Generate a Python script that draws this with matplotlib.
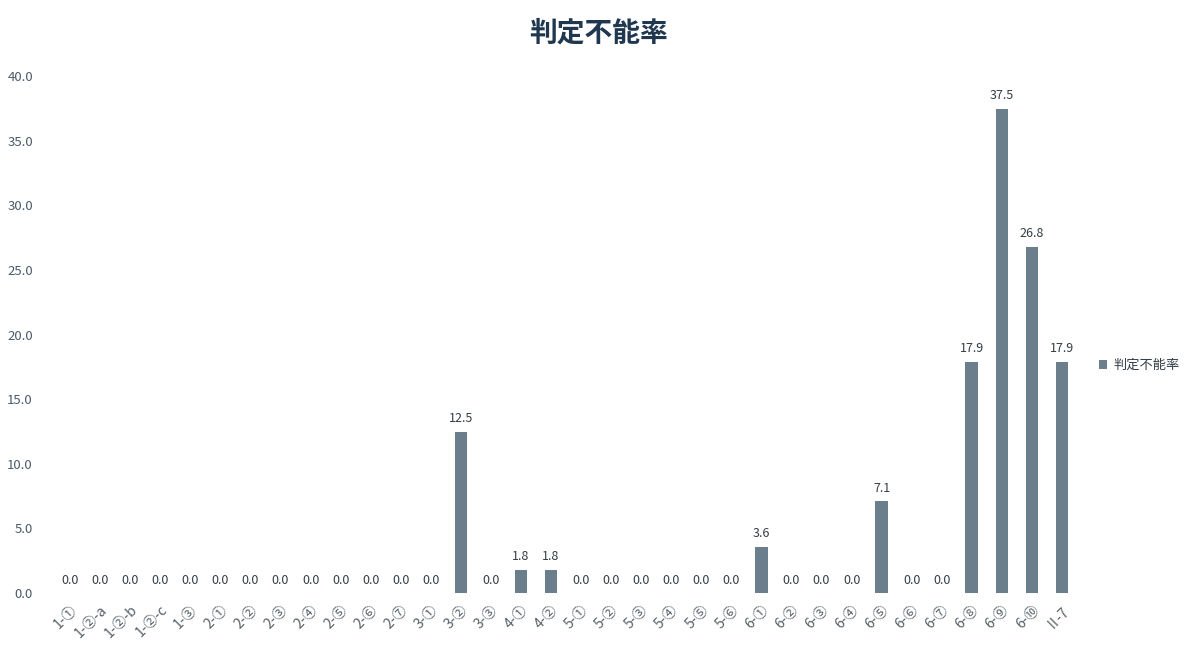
import matplotlib
matplotlib.use("Agg")
import matplotlib.pyplot as plt

plt.rcParams['font.family'] = ['Noto Sans CJK JP', 'DejaVu Sans']

# --- data ---
categories = [
    "1-①", "1-②-a", "1-②-b", "1-②-c", "1-③",
    "2-①", "2-②", "2-③", "2-④", "2-⑤", "2-⑥", "2-⑦",
    "3-①", "3-②", "3-③",
    "4-①", "4-②",
    "5-①", "5-②", "5-③", "5-④", "5-⑤", "5-⑥",
    "6-①", "6-②", "6-③", "6-④", "6-⑤", "6-⑥", "6-⑦", "6-⑧", "6-⑨", "6-⑩",
    "Ⅱ-7",
]
rates = [
    0.0, 0.0, 0.0, 0.0, 0.0,
    0.0, 0.0, 0.0, 0.0, 0.0, 0.0, 0.0,
    0.0, 12.5, 0.0,
    1.8, 1.8,
    0.0, 0.0, 0.0, 0.0, 0.0, 0.0,
    3.6, 0.0, 0.0, 0.0, 7.1, 0.0, 0.0, 17.9, 37.5, 26.8,
    17.9,
]
yticks = [0, 5, 10, 15, 20, 25, 30, 35, 40]
series_name = "判定不能率"

bar_color = "#6a7e8c"
text_color = "#4a5a68"

fig = plt.figure(figsize=(11.98, 6.46), dpi=100)
ax = fig.add_axes([0.046, 0.082, 0.853, 0.8])

x = range(len(categories))
ax.bar(x, rates, width=0.42, color=bar_color, label=series_name)

for xi, v in zip(x, rates):
    ax.text(xi, v + 0.5, f"{v:.1f}", ha="center", va="bottom",
            fontsize=9, color="#333d45")

ax.set_xlim(-0.5, len(categories) - 0.5)
ax.set_ylim(0, 40)
ax.set_yticks(yticks)
ax.set_yticklabels([f"{t:.1f}" for t in yticks], fontsize=9.5, color=text_color)
ax.set_xticks(list(x))
ax.set_xticklabels(categories, rotation=45, ha="right", rotation_mode="anchor",
                   fontsize=10, color="#555f66")
ax.tick_params(axis="both", length=0)
ax.tick_params(axis="y", pad=16)
ax.tick_params(axis="x", pad=7)
for s in ax.spines.values():
    s.set_visible(False)

fig.suptitle(series_name, fontsize=20, fontweight="bold", color="#1f3850", y=0.97)

ax.legend(loc="center left", bbox_to_anchor=(1.01, 0.44), frameon=False,
          fontsize=9.5, handlelength=0.6, handleheight=0.6, handletextpad=0.5,
          labelcolor="#333d45")

fig.savefig("out.png", dpi=100)
